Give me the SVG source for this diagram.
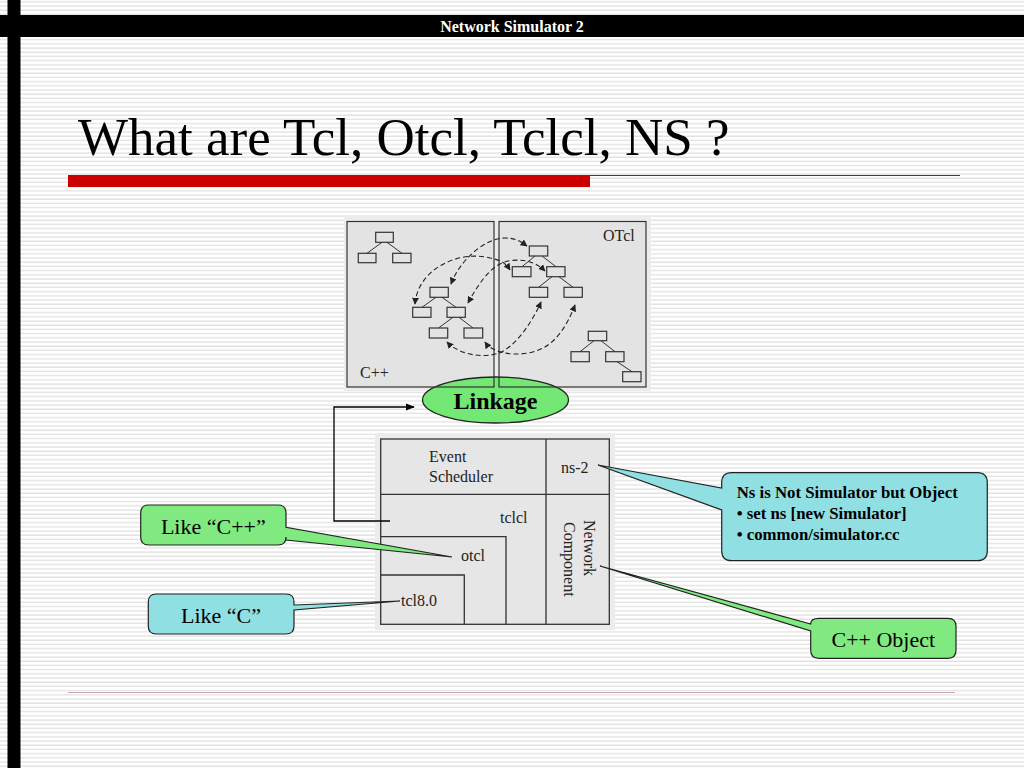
<svg xmlns="http://www.w3.org/2000/svg" width="1024" height="768" viewBox="0 0 1024 768">
<defs>
<pattern id="stripes" x="0" y="0" width="8" height="4.2" patternUnits="userSpaceOnUse">
<rect x="0" y="0" width="8" height="4.2" fill="#ffffff"/>
<rect x="0" y="1.2" width="8" height="1.3" fill="#e2e2e2"/>
</pattern>
<marker id="ah" viewBox="0 0 10 10" refX="9" refY="5" markerWidth="7" markerHeight="7" orient="auto-start-reverse" markerUnits="userSpaceOnUse">
<path d="M0,0 L10,5 L0,10 z" fill="#222"/>
</marker>
<marker id="ahb" viewBox="0 0 10 10" refX="9" refY="5" markerWidth="9" markerHeight="9" orient="auto" markerUnits="userSpaceOnUse">
<path d="M0,1 L10,5 L0,9 z" fill="#000"/>
</marker>
<style>
.bx{fill:none;stroke:#333;stroke-width:1.2}
.tl{stroke:#333;stroke-width:1;fill:none}
.dash{fill:none;stroke:#222;stroke-width:1.1;stroke-dasharray:5,3}
.pic{font-family:"Liberation Serif","Times New Roman",serif;font-size:16px;fill:#222}
.cap{font-family:"Liberation Serif","Times New Roman",serif;font-size:22px;fill:#000}
.ln{stroke:#333;stroke-width:1.3;fill:none}
</style>
</defs>
<rect width="1024" height="768" fill="url(#stripes)"/>
<g id="header">
<rect x="0" y="15" width="1024" height="22" fill="#000"/>
<rect x="7.5" y="0" width="13" height="768" fill="#000"/>
<text x="512" y="32" text-anchor="middle" font-family="Liberation Serif,serif" font-weight="bold" font-size="16" fill="#fff">Network Simulator 2</text>
</g>
<g id="title">
<text x="78" y="155" font-family="Liberation Serif,serif" font-size="53" fill="#000">What are Tcl, Otcl, Tclcl, NS ?</text>
<rect x="68" y="175" width="522" height="12" fill="#cc0000"/>
<line x1="590" y1="175.5" x2="960" y2="175.5" stroke="#cc0000" stroke-width="1"/>
<line x1="68" y1="692.5" x2="955" y2="692.5" stroke="#c8a8a8" stroke-width="1.2"/>
</g>
<g id="upper-picture">
<rect x="344" y="216" width="307" height="175" fill="#ececec"/>
<rect x="347" y="221.5" width="147" height="165.5" fill="#e3e3e3"/>
<rect x="499" y="221.5" width="147" height="165.5" fill="#e3e3e3"/>
</g>
<g id="linkage">
<ellipse cx="495.5" cy="400" rx="73" ry="23" fill="#74e874" stroke="#222" stroke-width="1.3"/>
<text x="495.5" y="409" text-anchor="middle" font-family="Liberation Serif,serif" font-weight="bold" font-size="24" fill="#000">Linkage</text>
</g>
<g id="upper-frames">
<rect class="bx" x="347" y="221.5" width="147" height="165.5"/>
<rect class="bx" x="499" y="221.5" width="147" height="165.5"/>
<text class="pic" x="603" y="241" font-size="13">OTcl</text>
<text class="pic" x="360" y="378" font-size="13">C++</text>
</g>
<g id="tree-a">
<path class="tl" d="M382,242.3 L367,253.3 M387,242.3 L402,253.3"/>
<rect class="bx" x="375.7" y="232.3" width="17.6" height="10"/>
<rect class="bx" x="358.3" y="253.3" width="17.7" height="9.4"/>
<rect class="bx" x="392.7" y="253.3" width="18.3" height="9.4"/>
</g>
<g id="tree-b">
<path class="tl" d="M436,297.3 L422,307.3 M442,297.3 L456,307.3 M453,317.3 L438.5,328 M459,317.3 L473,328"/>
<rect class="bx" x="430" y="287.3" width="18.3" height="10"/>
<rect class="bx" x="412.7" y="307.3" width="18.3" height="10"/>
<rect class="bx" x="447" y="307.3" width="18.3" height="10"/>
<rect class="bx" x="429.3" y="328" width="18.4" height="10"/>
<rect class="bx" x="464" y="328" width="18.7" height="10"/>
</g>
<g id="tree-c">
<path class="tl" d="M535,256 L522,266.7 M542,256 L556,266.7 M552,276.7 L538.5,287.3 M559,276.7 L573,287.3"/>
<rect class="bx" x="529.3" y="246" width="18.4" height="10"/>
<rect class="bx" x="512.3" y="266.7" width="18.7" height="10"/>
<rect class="bx" x="546.7" y="266.7" width="18.3" height="10"/>
<rect class="bx" x="529.3" y="287.3" width="18.4" height="10"/>
<rect class="bx" x="564" y="287.3" width="18.3" height="10"/>
</g>
<g id="tree-d">
<path class="tl" d="M594,340.7 L580,351.7 M601,340.7 L615,351.7 M617,361.7 L632,371.7"/>
<rect class="bx" x="588.3" y="331.3" width="18.4" height="9.4"/>
<rect class="bx" x="571" y="351.7" width="18.3" height="10"/>
<rect class="bx" x="605.7" y="351.7" width="18.3" height="10"/>
<rect class="bx" x="622.7" y="371.7" width="18.3" height="10"/>
</g>
<g id="links">
<path class="dash" marker-start="url(#ah)" marker-end="url(#ah)" d="M415,304 C418,268 460,250 490,258 C500,260 505,262 510,270"/>
<path class="dash" marker-start="url(#ah)" marker-end="url(#ah)" d="M451,284 C460,260 485,238 505,238 C515,238 520,241 527,246"/>
<path class="dash" marker-start="url(#ah)" marker-end="url(#ah)" d="M468,303 C478,285 490,265 508,261 C525,258 537,263 545,271"/>
<path class="dash" marker-start="url(#ah)" marker-end="url(#ah)" d="M447,342 C460,356 490,360 505,350 C520,340 533,320 541,302"/>
<path class="dash" marker-start="url(#ah)" marker-end="url(#ah)" d="M485,342 C495,357 530,358 548,345 C562,335 570,318 575,305"/>
</g>
<g id="lower-picture">
<rect x="375" y="433" width="240" height="197" fill="#ececec"/>
<rect x="380.7" y="439" width="228.6" height="185.3" fill="#e6e6e6" stroke="#333" stroke-width="1.3"/>
<path class="ln" d="M546,439 V624.3 M380.7,494.3 H609.3 M380.7,536.7 H506 V624.3 M380.7,575 H464.3 V624.3"/>
<text class="pic" x="429" y="462">Event</text>
<text class="pic" x="429" y="482">Scheduler</text>
<text class="pic" x="561" y="473">ns-2</text>
<text class="pic" x="500" y="523">tclcl</text>
<text class="pic" x="461" y="561">otcl</text>
<text class="pic" x="401" y="606">tcl8.0</text>
<text class="pic" transform="translate(584,520) rotate(90)">Network</text>
<text class="pic" transform="translate(564,522) rotate(90)">Component</text>
</g>
<g id="connectors">
<polyline points="390,521 334,521 334,407 414,407" fill="none" stroke="#000" stroke-width="1.3" marker-end="url(#ahb)"/>
</g>
<g id="callout-ns">
<path d="M731.7,472.7 H977.3 Q987.3,472.7 987.3,482.7 V550.7 Q987.3,560.7 977.3,560.7 H731.7 Q721.7,560.7 721.7,550.7 V510 L598,465 L721.7,488 V482.7 Q721.7,472.7 731.7,472.7 Z" fill="#90dfe2" stroke="#222" stroke-width="1.2"/>
<g font-family="Liberation Serif,serif" font-weight="bold" font-size="16.8" fill="#000">
<text x="736.7" y="497.5">Ns is Not Simulator but Object</text>
<text x="736.7" y="519">• set ns [new Simulator]</text>
<text x="736.7" y="540">• common/simulator.cc</text>
</g>
</g>
<g id="callout-cppobj">
<path d="M818.7,618.3 H948 Q956,618.3 956,626.3 V650.3 Q956,658.3 948,658.3 H818.7 Q810.7,658.3 810.7,650.3 V631 L600,566 L810.7,624 Q810.7,618.3 818.7,618.3 Z" fill="#80ea80" stroke="#222" stroke-width="1.2"/>
<text class="cap" x="883.3" y="646.5" text-anchor="middle">C++ Object</text>
</g>
<g id="callout-likecpp">
<path d="M148.7,505 H278 Q286,505 286,513 V527.3 L452,557 L286,540 V537 Q286,545 278,545 H148.7 Q140.7,545 140.7,537 V513 Q140.7,505 148.7,505 Z" fill="#80ea80" stroke="#222" stroke-width="1.2"/>
<text class="cap" x="213.3" y="534" text-anchor="middle">Like “C++”</text>
</g>
<g id="callout-likec">
<path d="M156.3,594 H286 Q294,594 294,602 V605 L400,601 L294,610 V626 Q294,634 286,634 H156.3 Q148.3,634 148.3,626 V602 Q148.3,594 156.3,594 Z" fill="#90dfe2" stroke="#222" stroke-width="1.2"/>
<text class="cap" x="221" y="623" text-anchor="middle">Like “C”</text>
</g>
</svg>
